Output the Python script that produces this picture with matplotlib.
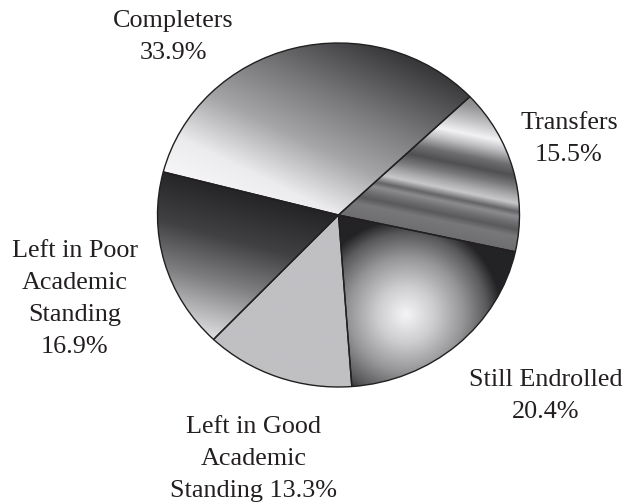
import numpy as np
import matplotlib
matplotlib.use("Agg")
import matplotlib.pyplot as plt

# données
categories = ["Completers", "Transfers", "Still Endrolled",
              "Left in Good Academic Standing", "Left in Poor Academic Standing"]
shares = [33.9, 15.5, 20.4, 13.3, 16.9]
label_lines = ["Completers\n{}", "Transfers\n{}", "Still Endrolled\n{}",
               "Left in Good\nAcademic\nStanding {}", "Left in Poor\nAcademic\nStanding\n{}"]

plt.rcParams['font.family'] = ['Liberation Serif', 'DejaVu Serif']

fig = plt.figure(figsize=(6.25, 5.04), dpi=100)
ax = fig.add_axes([0, 0, 1, 1])

wedges, _ = ax.pie(shares, startangle=165.5, counterclock=False, radius=1,
                   wedgeprops=dict(edgecolor='#231f20', linewidth=1.0, facecolor='none'))
for w in wedges:
    w.set_zorder(3)

# pie légèrement elliptique : 181 px en x, 172 px en y
ax.set_aspect('auto')
cx, cy, rx, ry = 338.5, 215, 181, 172
ax.axis('off')

# grille pour les dégradés
n = 700
gx, gy = np.meshgrid(np.linspace(-1, 1, n), np.linspace(-1, 1, n))

# Completers : linéaire, sombre en haut à droite
t = gx * 0.45 + gy * 0.89
g_comp = np.interp(t, [-0.3, 0, 0.3, 0.6, 0.9, 1.05], [250, 236, 165, 120, 70, 45])

# Transfers : bandes "métal"
s = gy + 0.22 * gx
g_trans = np.interp(s, [0.0, 0.09, 0.131, 0.166, 0.207, 0.236, 0.283, 0.324, 0.383, 0.441,
                        0.499, 0.57, 0.628, 0.716, 0.792, 0.9],
                    [110, 120, 90, 110, 140, 100, 200, 170, 120, 80,
                     110, 190, 242, 190, 150, 120])

# Still Endrolled : radial
dr = np.hypot((gx - 0.367) * rx, (gy + 0.579) * ry) / 95
g_still = np.interp(dr, [0, 0.3, 0.6, 0.85, 1.0], [245, 205, 150, 90, 35])

# Left in Good : uni
g_good = np.full_like(gx, 192)

# Left in Poor : linéaire, sombre en haut
t = -0.275 * gx - 0.956 * gy
g_poor = np.interp(t, [0, 0.3, 0.55, 0.9, 1.0], [35, 65, 125, 230, 245])

for w, g in zip(wedges, [g_comp, g_trans, g_still, g_good, g_poor]):
    rgb = np.dstack([g, g, g + 3]).clip(0, 255) / 255
    im = ax.imshow(rgb, extent=(-1, 1, -1, 1), origin='lower', zorder=1,
                   interpolation='bilinear', aspect='auto')
    im.set_clip_path(w)

ax.set_xlim(-cx / rx, (625 - cx) / rx)
ax.set_ylim(-(504 - cy) / ry, cy / ry)

# étiquettes (positions en pixels de l'image)
label_pos = [(173.5, 37), (569, 139), (546, 396), (253.5, 459), (74.5, 299)]
for lab, v, (px, py) in zip(label_lines, shares, label_pos):
    fig.text(px / 625, 1 - py / 504, lab.format(f"{v:.1f}%"), ha='center', va='center',
             fontsize=18.8, color='#231f20', linespacing=1.58)

fig.savefig("out.png", dpi=100)
